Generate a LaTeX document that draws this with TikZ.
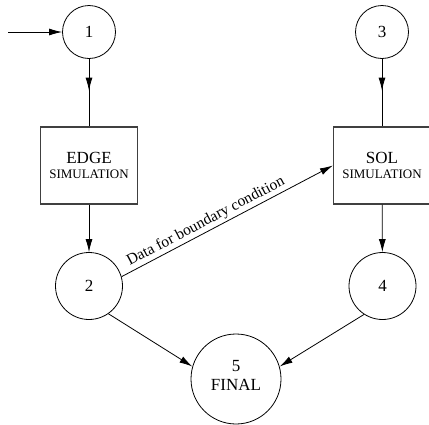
\documentclass[tikz,border=0pt]{standalone}
\usepackage{fontspec}
\setmainfont{Liberation Serif}
\usetikzlibrary{arrows.meta,decorations.markings}

\tikzset{
  state/.style={circle,draw,line width=0.8pt,inner sep=0pt,font=\fontsize{17}{19}\selectfont,align=center},
  simbox/.style={rectangle,draw=black!75,line width=1.2pt,minimum width=97pt,minimum height=77pt,inner sep=0pt,font=\fontsize{17}{16}\selectfont,align=center},
  midarrow/.style={postaction={decorate},decoration={markings,mark=at position 0.47 with {\arrow{>}}}}
}

\begin{document}
\begin{tikzpicture}[x=1pt,y=-1pt,line width=0.8pt,>={Latex[length=13pt,width=7pt]}]
      \clip (0,0) rectangle (429,424);
      \coordinate (in) at (8,32);
      \node[state,minimum size=53pt] (1) at (89,32) {1};
      \node[simbox] (edge) at (89,165.5) {EDGE\\[-1pt]{\fontsize{13}{13}\selectfont SIMULATION}};
      \node[state,minimum size=67pt] (2) at (89,286) {2};
      \node[state,minimum size=53pt] (3) at (382,32) {3};
      \node[simbox] (sol) at (382,165.5) {SOL\\[-1pt]{\fontsize{13}{13}\selectfont SIMULATION}};
      \node[state,minimum size=67pt] (4) at (382.5,286) {4};
      \node[state,minimum size=90pt,text depth=8pt] (5) at (236,379) {5\\FINAL};

      \draw[->] (in) -- (1);
      \draw[midarrow] (1) -- (edge);
      \draw[->] (edge) -- (2);
      \draw[midarrow] (3) -- (sol);
      \draw[->] (sol) -- (4);
      \draw[->] (2.16) -- node[pos=0.42,above,sloped,inner sep=2pt,font=\fontsize{15.5}{16}\selectfont] {Data for boundary condition} (sol.west);
      \draw[->] (2.-55) -- (5.164);
      \draw[->] (4.-123) -- (5.16);
    \end{tikzpicture}
\end{document}
